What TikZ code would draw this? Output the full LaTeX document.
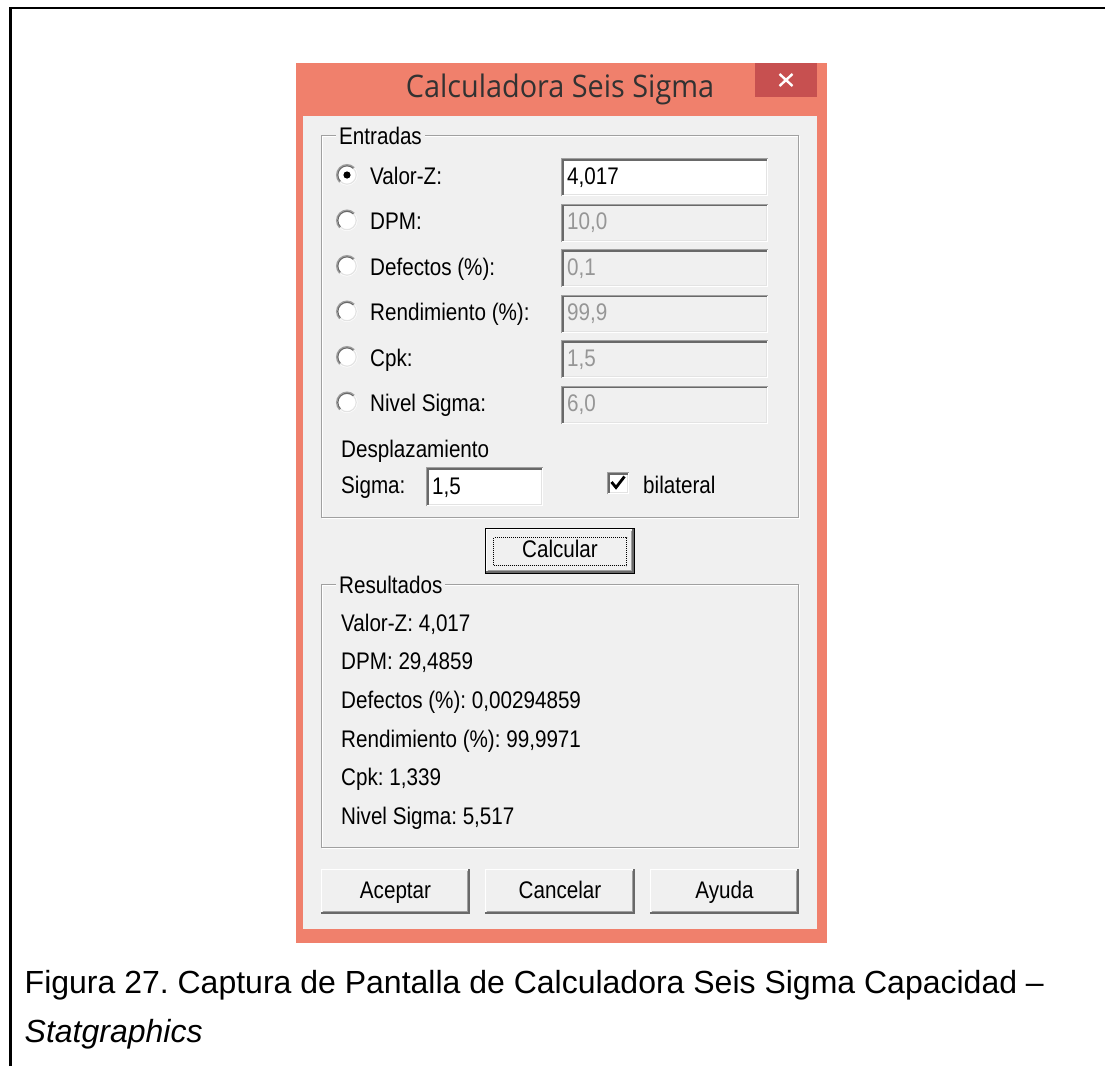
\documentclass[tikz,border=0pt]{standalone}
\usepackage{fontspec}
\setmainfont{Liberation Sans}
\newfontfamily\dlgfont[FakeStretch=0.86]{Liberation Sans}
\newfontfamily\titlefont[FakeStretch=0.93]{Open Sans}
\frenchspacing

\definecolor{winorange}{RGB}{240,128,108}
\definecolor{closered}{RGB}{199,80,80}
\definecolor{face}{RGB}{240,240,240}
\definecolor{shadowgray}{RGB}{160,160,160}
\definecolor{darkshadow}{RGB}{105,105,105}
\definecolor{lightedge}{RGB}{227,227,227}
\definecolor{disabledtext}{RGB}{150,150,150}
\definecolor{titletext}{RGB}{50,50,50}

% sunken 3D border of an edit box or check box: x1, y1, x2, y2
\newcommand\sunkenedge[4]{%
  \draw[shadowgray,line width=1pt] (#1+0.5,#4) -- (#1+0.5,#2+0.5) -- (#3,#2+0.5);
  \draw[darkshadow,line width=1.6pt] (#1+1.8,#4-1) -- (#1+1.8,#2+1.8) -- (#3-1,#2+1.8);
  \draw[white,line width=1pt] (#1+1,#4-0.5) -- (#3-0.5,#4-0.5) -- (#3-0.5,#2+1);
  \draw[lightedge,line width=1pt] (#1+2.5,#4-1.5) -- (#3-1.5,#4-1.5) -- (#3-1.5,#2+2.5);
}
% raised 3D border of a push button: x1, y1, x2, y2
\newcommand\raisededge[4]{%
  \draw[white,line width=1.2pt] (#1+0.6,#4-1) -- (#1+0.6,#2+0.6) -- (#3-1,#2+0.6);
  \draw[darkshadow,line width=1.6pt] (#1,#4-0.8) -- (#3-0.8,#4-0.8) -- (#3-0.8,#2);
  \draw[shadowgray,line width=1.6pt] (#1+1.5,#4-2.4) -- (#3-2.4,#4-2.4) -- (#3-2.4,#2+1.5);
}
% push button: name, x1, y1, x2, y2, caption
\newcommand\pushbutton[6]{%
  \fill[face] (#2,#3) rectangle (#4,#5);
  \raisededge{#2}{#3}{#4}{#5}
  \node[txt,anchor=base] (#1) at ({(#2+#4)/2},#5-16) {#6};
}
% edit box: name, x1, y1, x2, y2, fill, text colour, text
\newcommand\editbox[8]{%
  \fill[#6] (#2,#3) rectangle (#4,#5);
  \sunkenedge{#2}{#3}{#4}{#5}
  \node[txt,text=#7] (#1) at (#2+6,#5-12) {#8};
}
% radio button: name, x, y, selected (1/0)
\newcommand\radiobutton[4]{%
  \node[circle,fill=white,minimum size=21pt,inner sep=0pt] (#1) at (#2,#3) {};
  \draw[shadowgray,line width=1.2pt] (#2,#3) ++(135:10.4) arc (135:315:10.4);
  \draw[darkshadow,line width=1.2pt] (#2,#3) ++(135:9.2) arc (135:315:9.2);
  \draw[lightedge,line width=1.2pt] (#2,#3) ++(315:9.2) arc (315:495:9.2);
  \ifnum#4=1 \fill[black] (#2,#3) circle (3.6);\fi
}

\begin{document}
\begin{tikzpicture}[x=1pt,y=-1pt,
  txt/.style={inner sep=0pt,anchor=base west,font=\dlgfont\fontsize{24}{28}\selectfont},
  grouplabel/.style={txt,fill=face,inner xsep=3pt,inner ysep=0pt},
  etched/.style={draw=shadowgray,line width=1pt},
  etchedlight/.style={draw=white,line width=1pt}]
\useasboundingbox (0,0) rectangle (1105,1066);
\fill[white] (0,0) rectangle (1105,1066);

% page frame: left and top rules
\draw[black,line width=2.8pt] (10.5,1066) -- (10.5,8) -- (1105,8);

% window frame and client area
\fill[winorange] (296,63) rectangle (827,943);
\fill[face] (303,116) rectangle (817,929);

% title bar
\fill[closered] (755,63) rectangle (817,97);
\coordinate (xc) at (786,80);
\draw[white,line width=2.4pt] ([shift={(-6.5,-6)}]xc) -- ([shift={(6.5,6)}]xc);
\draw[white,line width=2.4pt] ([shift={(-6.5,6)}]xc) -- ([shift={(6.5,-6)}]xc);
\node[inner sep=0pt,anchor=base,text=titletext,font=\titlefont\fontsize{31}{36}\selectfont]
  (title) at (560,97) {Calculadora Seis Sigma};

% group box: Entradas
\draw[etchedlight] (322,136) rectangle (799,518);
\draw[etched] (321,135) rectangle (798,517);
\node[grouplabel] (entradas) at (336,144) {Entradas};

% input rows
\radiobutton{r1}{347}{175}{1}
\radiobutton{r2}{347}{220.5}{0}
\radiobutton{r3}{347}{266}{0}
\radiobutton{r4}{347}{311.5}{0}
\radiobutton{r5}{347}{357}{0}
\radiobutton{r6}{347}{402.5}{0}
\node[txt] (l1) at (370,184) {Valor-Z:};
\node[txt] (l2) at (370,229.5) {DPM:};
\node[txt] (l3) at (370,275) {Defectos (\%):};
\node[txt] (l4) at (370,320.5) {Rendimiento (\%):};
\node[txt] (l5) at (370,366) {Cpk:};
\node[txt] (l6) at (370,411.5) {Nivel Sigma:};
\editbox{f1}{561}{158}{768}{196}{white}{black}{4,017}
\editbox{f2}{561}{203.5}{768}{241.5}{face}{disabledtext}{10,0}
\editbox{f3}{561}{249}{768}{287}{face}{disabledtext}{0,1}
\editbox{f4}{561}{294.5}{768}{332.5}{face}{disabledtext}{99,9}
\editbox{f5}{561}{340}{768}{378}{face}{disabledtext}{1,5}
\editbox{f6}{561}{385.5}{768}{423.5}{face}{disabledtext}{6,0}

% shift and two-sided option
\node[txt] (desp) at (341,457) {Desplazamiento};
\node[txt] (sigma) at (341,493) {Sigma:};
\editbox{fsig}{426}{467}{543}{506}{white}{black}{1,5}
\fill[white] (607,472) rectangle (629,494);
\sunkenedge{607}{472}{629}{494}
\draw[black,line width=2.8pt] (611.5,482) -- (616,487.5) -- (624.5,476.5);
\node[txt] (bilat) at (643,493) {bilateral};

% default button with focus rectangle
\draw[black,line width=1pt] (485.5,528.5) rectangle (634.5,573.5);
\pushbutton{calc}{486}{529}{634}{573}{Calcular}
\draw[black,line width=1pt,dash pattern=on 1pt off 1pt] (493.5,537.5) rectangle (626.5,565.5);

% group box: Resultados
\draw[etchedlight] (322,585) rectangle (799,848);
\draw[etched] (321,584) rectangle (798,847);
\node[grouplabel] (resultados) at (336,593) {Resultados};
\node[txt] (o1) at (341,631) {Valor-Z: 4,017};
\node[txt] (o2) at (341,669.7) {DPM: 29,4859};
\node[txt] (o3) at (341,708.4) {Defectos (\%): 0,00294859};
\node[txt] (o4) at (341,747.1) {Rendimiento (\%): 99,9971};
\node[txt] (o5) at (341,785.8) {Cpk: 1,339};
\node[txt] (o6) at (341,824.5) {Nivel Sigma: 5,517};

% bottom buttons
\pushbutton{ok}{321}{869}{470}{914}{Aceptar}
\pushbutton{cancel}{485}{869}{635}{914}{Cancelar}
\pushbutton{help}{650}{869}{799}{914}{Ayuda}

% caption
\node[inner sep=0pt,anchor=base west,font=\fontsize{32}{38}\selectfont]
  (cap1) at (24.5,993) {Figura 27. Captura de Pantalla de Calculadora Seis Sigma Capacidad –};
\node[inner sep=0pt,anchor=base west,font=\itshape\fontsize{32}{38}\selectfont]
  (cap2) at (24.5,1042) {Statgraphics};
\end{tikzpicture}
\end{document}
